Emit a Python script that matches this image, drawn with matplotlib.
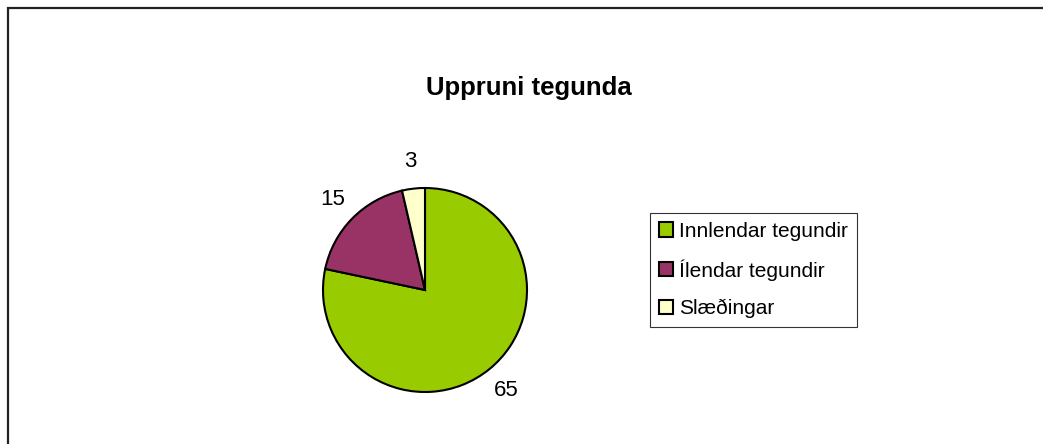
import matplotlib.pyplot as plt
from matplotlib.patches import Rectangle

# data
categories = ['Innlendar tegundir', 'Ílendar tegundir', 'Slæðingar']
values = [65, 15, 3]
colors = ['#99CC00', '#993366', '#FFFFCC']
title = 'Uppruni tegunda'

plt.rcParams['font.family'] = ['Liberation Sans', 'DejaVu Sans']

W, H = 1043, 444
fig = plt.figure(figsize=(W / 100, H / 100), dpi=100)
fig.patch.set_facecolor('white')

# chart area border (runs off the right and bottom edges)
fig.patches.append(Rectangle((8 / W, -0.2), 1.2, 1.2 - 8 / H,
                             transform=fig.transFigure, fill=False,
                             edgecolor='#222222', linewidth=1.6))

fig.text(529 / W, 1 - 88 / H, title, ha='center', va='center',
         fontsize=18.5, fontweight='bold')

# pie axes: center (425, 290), radius 102 px
cx, cy, r = 425, 290, 102
ax = fig.add_axes([(cx - r) / W, (H - cy - r) / H, 2 * r / W, 2 * r / H])
wedges, texts = ax.pie(values, labels=[str(v) for v in values], colors=colors,
                       startangle=90, counterclock=False, radius=1,
                       labeldistance=1.27,
                       wedgeprops=dict(edgecolor='black', linewidth=1.5),
                       textprops=dict(fontsize=16))
for t in texts:
    t.set_ha('center')
    t.set_va('center')
ax.set_xlim(-1, 1)
ax.set_ylim(-1, 1)
ax.set_aspect('equal')
ax.axis('off')

leg = fig.legend(wedges, categories, loc='upper left',
                 bbox_to_anchor=(650 / W, 1 - 213 / H), borderaxespad=0,
                 fontsize=15, frameon=True, fancybox=False,
                 handlelength=0.67, handleheight=0.67, handletextpad=0.3,
                 labelspacing=0.88, borderpad=0.42)
leg.get_frame().set_edgecolor('black')
leg.get_frame().set_linewidth(0.8)
for h in leg.legend_handles:
    h.set_linewidth(1.5)

fig.savefig('out.png', dpi=100)
